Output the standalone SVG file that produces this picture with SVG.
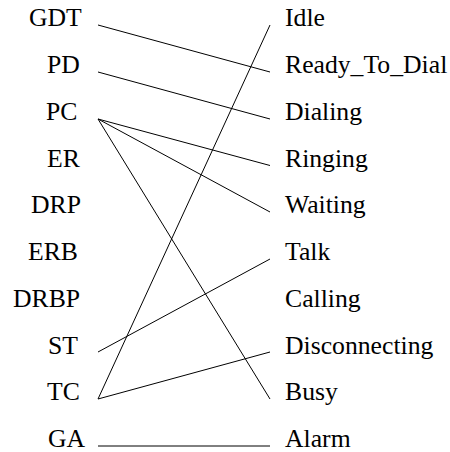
<svg xmlns="http://www.w3.org/2000/svg" width="450" height="452" viewBox="0 0 450 452">
<style>
text{font-family:"Liberation Serif","Times New Roman",serif;font-size:25.7px;fill:#000}
.c line{stroke:#000;stroke-width:1;fill:none}
</style>
<rect width="450" height="452" fill="#fff"/>
<g id="left">
<g id="GDT"><text x="29" y="26">GDT</text></g>
<g id="PD"><text x="47" y="73">PD</text></g>
<g id="PC"><text x="46" y="120">PC</text></g>
<g id="ER"><text x="47" y="166.5">ER</text></g>
<g id="DRP"><text x="31" y="213">DRP</text></g>
<g id="ERB"><text x="28" y="260">ERB</text></g>
<g id="DRBP"><text x="13" y="306.5">DRBP</text></g>
<g id="ST"><text x="48" y="353.5">ST</text></g>
<g id="TC"><text x="47" y="400">TC</text></g>
<g id="GA"><text x="48" y="447">GA</text></g>
</g>
<g id="right">
<g id="Idle"><text x="285" y="26">Idle</text></g>
<g id="Ready_To_Dial"><text x="285" y="73">Ready_To_Dial</text></g>
<g id="Dialing"><text x="285" y="120">Dialing</text></g>
<g id="Ringing"><text x="285" y="166.5">Ringing</text></g>
<g id="Waiting"><text x="285" y="213">Waiting</text></g>
<g id="Talk"><text x="285" y="260">Talk</text></g>
<g id="Calling"><text x="285" y="306.5">Calling</text></g>
<g id="Disconnecting"><text x="285" y="353.5">Disconnecting</text></g>
<g id="Busy"><text x="285" y="400">Busy</text></g>
<g id="Alarm"><text x="285" y="447">Alarm</text></g>
</g>
<g id="connectors" class="c">
<line x1="98" y1="25" x2="270" y2="72"/>
<line x1="98" y1="72" x2="270" y2="119"/>
<line x1="98" y1="119" x2="270" y2="165.5"/>
<line x1="98" y1="119" x2="270" y2="212"/>
<line x1="98" y1="119" x2="270" y2="399"/>
<line x1="98" y1="352" x2="270" y2="259"/>
<line x1="98" y1="399" x2="270" y2="25"/>
<line x1="98" y1="399" x2="270" y2="352"/>
<line x1="98" y1="446" x2="270" y2="446"/>
</g>
</svg>
